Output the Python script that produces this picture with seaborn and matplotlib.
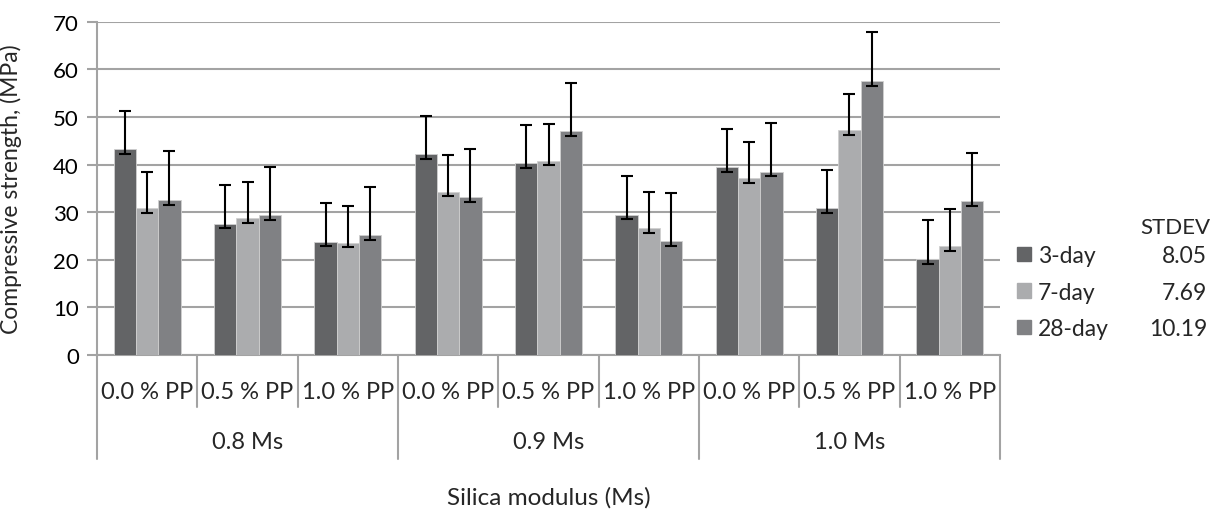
import matplotlib
matplotlib.use("Agg")
import matplotlib.pyplot as plt
import matplotlib.transforms as mtransforms
import seaborn as sns
import pandas as pd
import numpy as np

# ---- data ----
modulus = ["0.8 Ms", "0.9 Ms", "1.0 Ms"]
fibre = ["0.0 % PP", "0.5 % PP", "1.0 % PP"]
ages = ["3-day", "7-day", "28-day"]
day3 = [43.3, 27.6, 23.8, 42.2, 40.3, 29.5, 39.4, 30.9, 20.2]
day7 = [30.8, 28.7, 23.6, 34.3, 40.8, 26.6, 37.1, 47.2, 22.9]
day28 = [32.6, 29.3, 25.1, 33.1, 47.0, 23.9, 38.5, 57.6, 32.3]
stdev = [8.05, 7.69, 10.19]
colors = ["#636466", "#abacae", "#808184"]

cats = [f"{m}|{f}" for m in modulus for f in fibre]
rows = []
for age, vals in zip(ages, [day3, day7, day28]):
    for c, v in zip(cats, vals):
        rows.append({"cat": c, "age": age, "value": v})
df = pd.DataFrame(rows)

sns.set_theme(style="white")
plt.rcParams["font.family"] = ["Lato", "DejaVu Sans"]

W, H = 1219, 510
fig = plt.figure(figsize=(W / 100, H / 100), dpi=100)
x0, x1, ytop, ybot = 97, 1000, 22.7, 356
ax = fig.add_axes([x0 / W, 1 - ybot / H, (x1 - x0) / W, (ybot - ytop) / H])

sns.barplot(data=df, x="cat", y="value", hue="age", order=cats, hue_order=ages,
            palette=colors, width=0.667, errorbar=None, ax=ax,
            edgecolor="#d0d0d0", linewidth=0.6, saturation=1, zorder=3)

# error bars: drawn upward by the age STDEV, short lower cap just under the bar top
low_cap = 1.0
for cont, sd in zip(ax.containers, stdev):
    xs = [p.get_x() + p.get_width() / 2 for p in cont.patches]
    hs = [p.get_height() for p in cont.patches]
    ax.errorbar(xs, hs, yerr=[[low_cap] * len(hs), [sd] * len(hs)], fmt="none",
                ecolor="black", elinewidth=1.5, capsize=4.5, capthick=1.5,
                zorder=4)

ax.set_ylim(0, 70)
ax.set_xlim(-0.5, len(cats) - 0.5)
ax.set_yticks(np.arange(0, 71, 10))
ax.yaxis.grid(True, color="#a3a3a3", linewidth=1.5, zorder=0)
ax.set_axisbelow(True)
for s in ["top", "right"]:
    ax.spines[s].set_visible(False)
for s in ["left", "bottom"]:
    ax.spines[s].set_color("#a3a3a3")
    ax.spines[s].set_linewidth(1.5)
ax.tick_params(axis="y", which="both", left=True, length=7, width=1.5,
               color="#a3a3a3", labelsize=16, pad=6, labelcolor="black")
ax.tick_params(axis="x", bottom=False, labelbottom=False)
ax.set_xlabel("")
ax.set_ylabel("Compressive strength, (MPa)", fontsize=16.5)
ax.yaxis.set_label_coords(-0.083, 0.5)

# multi-level category axis
trans = mtransforms.blended_transform_factory(ax.transData, ax.transAxes)
axh = ybot - ytop
def ay(py):
    return (ybot - py) / axh
inner_bot = ay(408)
outer_bot = ay(460)
for i in range(len(cats) + 1):
    xb = i - 0.5
    bot = outer_bot if i % 3 == 0 else inner_bot
    ax.plot([xb, xb], [0, bot], transform=trans, color="#a3a3a3", lw=1.5,
            clip_on=False)
for i, c in enumerate(cats):
    ax.text(i, ay(393), c.split("|")[1], transform=trans, ha="center",
            va="center", fontsize=17)
for j, m in enumerate(modulus):
    ax.text(3 * j + 1, ay(443), m, transform=trans, ha="center", va="center",
            fontsize=17)
ax.text(0.5, ay(498), "Silica modulus (Ms)", transform=ax.transAxes,
        ha="center", va="center", fontsize=17.5)

# legend
if ax.get_legend():
    ax.get_legend().remove()
handles = [plt.Rectangle((0, 0), 1, 1, color=c) for c in colors]
leg = fig.legend(handles, ages, loc="upper left",
                 bbox_to_anchor=(1017 / W, 1 - 246 / H), frameon=False,
                 fontsize=16.5, handlelength=0.6, handleheight=0.6,
                 handletextpad=0.3, labelspacing=0.68, borderpad=0,
                 borderaxespad=0)
fig.canvas.draw()
r = fig.canvas.get_renderer()
ycs = []
for t, sd in zip(leg.get_texts(), stdev):
    bb = t.get_window_extent(r)
    yc = (bb.y0 + bb.y1) / 2
    ycs.append(yc)
    fig.text(1207 / W, yc / H, f"{sd:.2f}", ha="right", va="center",
             fontsize=16.5)
fig.text(1210 / W, (ycs[0] + 29) / H, "STDEV", ha="right", va="center",
         fontsize=16)

fig.savefig("out.png", dpi=100)
